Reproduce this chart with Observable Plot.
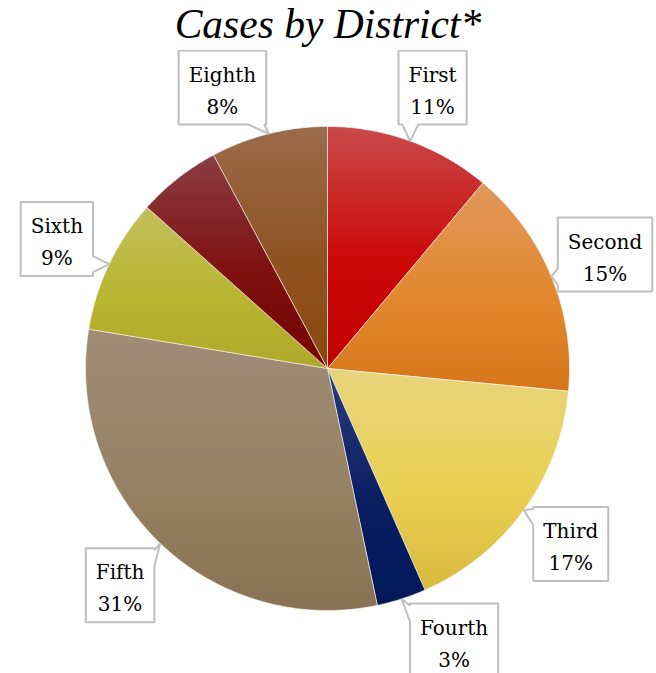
<!DOCTYPE html>
<html>
<head>
<meta charset="utf-8">
<script src="https://cdn.jsdelivr.net/npm/d3@7"></script>
<script src="https://cdn.jsdelivr.net/npm/@observablehq/plot@0.6"></script>
<style>
  html, body { margin: 0; padding: 0; background: #fff; }
  #title { height: 50px; line-height: 48px; text-align: center; font-family: "Liberation Serif", serif; font-style: italic; font-size: 41.5px; color: #000; }
  #chart svg { display: block; }
</style>
</head>
<body>
<div id="title"></div>
<div id="chart"></div>
<script>
// ---- data ----
const chartTitle = "Cases by District*";
const districts = ["First", "Second", "Third", "Fourth", "Fifth", "Sixth", "Seventh", "Eighth"];
const shares = [11.1, 15.4, 16.9, 3.3, 30.9, 9.0, 5.6, 7.8];
const showLabel = [true, true, true, true, true, true, false, true];
// gradient palette (top, middle, bottom) per slice
const paletteTop = ["#C94A4A", "#E1975C", "#E8D47C", "#2C3E7A", "#A18D77", "#C1BF5A", "#8B3D44", "#9B6B4B"];
const paletteMid = ["#CC0808", "#E2882E", "#EAD052", "#0A1E62", "#958163", "#B9B632", "#7E1010", "#8F5322"];
const paletteBot = ["#C20000", "#D6761A", "#D8B83E", "#001858", "#8A7254", "#AEA828", "#760000", "#8A4810"];

// ---- layout ----
const W = 656, H = 623;
const cx = 327, cy = 318;   // pie centre in svg pixels
const R = 242;              // pie radius
const labelDist = 300;      // distance of label centre from pie centre
const lowestLabel = 590;    // lowest allowed label centre (svg pixels)
const fontSize = 20;
const lineH = 1.6;

document.getElementById("title").textContent = chartTitle;

const total = d3.sum(shares);
let cum = 0;
const slices = districts.map((name, i) => {
  const a0 = cum / total * 2 * Math.PI;
  cum += shares[i];
  const a1 = cum / total * 2 * Math.PI;
  return {name, value: shares[i], i, a0, a1, mid: (a0 + a1) / 2};
});

// polygon points for each wedge
function wedgePoints(s) {
  const pts = [{x: 0, y: 0}];
  const step = Math.PI / 360;
  const n = Math.max(2, Math.ceil((s.a1 - s.a0) / step));
  for (let k = 0; k <= n; k++) {
    const a = s.a0 + (s.a1 - s.a0) * k / n;
    pts.push({x: R * Math.sin(a), y: -R * Math.cos(a)});
  }
  pts.push({x: 0, y: 0});
  return pts;
}

// text measurement
const ctx = document.createElement("canvas").getContext("2d");
ctx.font = `${fontSize}px "DejaVu Serif"`;

const labels = slices.filter(s => showLabel[s.i]).map(s => {
  const line1 = s.name, line2 = `${Math.round(s.value)}%`;
  const tw = Math.max(ctx.measureText(line1).width, ctx.measureText(line2).width);
  const hw = tw / 2 + 10, hh = 37;
  let bx = labelDist * Math.sin(s.mid), by = -labelDist * Math.cos(s.mid);
  const minY = -cy + hh, maxY = lowestLabel - cy;
  const cl = Math.max(minY, Math.min(maxY, by));
  if (cl !== by) { by = cl; bx = Math.sign(bx || 1) * Math.sqrt(labelDist * labelDist - by * by); }
  const tx = R * Math.sin(s.mid), ty = -R * Math.cos(s.mid);
  return {name: s.name, text: line1 + "\n" + line2, bx, by, hw, hh, tx, ty};
});

function calloutPoints(l) {
  const L = l.bx - l.hw, Rr = l.bx + l.hw, T = l.by - l.hh, B = l.by + l.hh;
  const dx = l.tx - l.bx, dy = l.ty - l.by;
  let side;
  if (Math.abs(dx) / l.hw >= Math.abs(dy) / l.hh) side = dx > 0 ? "right" : "left";
  else side = dy > 0 ? "bottom" : "top";
  const w = 16;
  const clamp = (v, a, b) => Math.max(a, Math.min(b, v));
  const tip = {x: l.tx, y: l.ty};
  const pts = [{x: L, y: T}];
  if (side === "top") { const c = clamp(l.tx, L + w / 2 + 2, Rr - w / 2 - 2); pts.push({x: c - w / 2, y: T}, tip, {x: c + w / 2, y: T}); }
  pts.push({x: Rr, y: T});
  if (side === "right") { const c = clamp(l.ty, T + w / 2 + 2, B - w / 2 - 2); pts.push({x: Rr, y: c - w / 2}, tip, {x: Rr, y: c + w / 2}); }
  pts.push({x: Rr, y: B});
  if (side === "bottom") { const c = clamp(l.tx, L + w / 2 + 2, Rr - w / 2 - 2); pts.push({x: c + w / 2, y: B}, tip, {x: c - w / 2, y: B}); }
  pts.push({x: L, y: B});
  if (side === "left") { const c = clamp(l.ty, T + w / 2 + 2, B - w / 2 - 2); pts.push({x: L, y: c + w / 2}, tip, {x: L, y: c - w / 2}); }
  pts.push({x: L, y: T});
  return pts;
}

const marks = [];
slices.forEach(s => {
  marks.push(Plot.line(wedgePoints(s), {
    x: "x", y: "y", fill: `url(#grad${s.i})`,
    stroke: "white", strokeWidth: 1, strokeOpacity: 0.55, strokeLinejoin: "round"
  }));
});
labels.forEach(l => {
  marks.push(Plot.line(calloutPoints(l), {
    x: "x", y: "y", fill: "white", stroke: "#BFBFBF", strokeWidth: 2, strokeLinejoin: "miter"
  }));
});
marks.push(Plot.text(labels, {
  x: "bx", y: "by", text: "text", fill: "#000",
  fontFamily: "DejaVu Serif", fontSize, lineHeight: lineH, textAnchor: "middle"
}));

const plot = Plot.plot({
  width: W, height: H, margin: 0,
  x: {domain: [-cx, W - cx], range: [0, W], axis: null},
  y: {domain: [-cy, H - cy], range: [0, H], axis: null},
  marks
});

const defs = d3.select(plot).insert("defs", ":first-child");
slices.forEach(s => {
  const g = defs.append("linearGradient").attr("id", `grad${s.i}`)
    .attr("x1", 0).attr("y1", 0).attr("x2", 0).attr("y2", 1);
  g.append("stop").attr("offset", "0%").attr("stop-color", paletteTop[s.i]);
  g.append("stop").attr("offset", "55%").attr("stop-color", paletteMid[s.i]);
  g.append("stop").attr("offset", "100%").attr("stop-color", paletteBot[s.i]);
});

document.getElementById("chart").appendChild(plot);
</script>
</body>
</html>
